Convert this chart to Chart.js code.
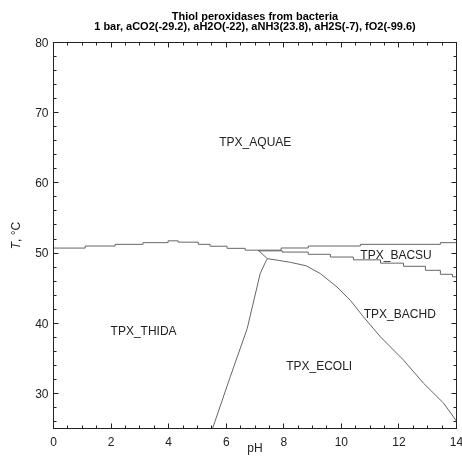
<!DOCTYPE html>
<html><head><meta charset="utf-8">
<script src="https://cdn.jsdelivr.net/npm/chart.js@4.4.1/dist/chart.umd.min.js"></script>
<style>html,body{margin:0;padding:0;background:#fff;}#wrap{width:462px;height:460px;}</style>
</head><body><div id="wrap"><canvas id="c" width="462" height="460"></canvas></div>
<script>
// ---- text ----
const titleLines = ["Thiol peroxidases from bacteria", "1 bar, aCO2(-29.2), aH2O(-22), aNH3(23.8), aH2S(-7), fO2(-99.6)"];
const xAxisTitle = "pH";
const yAxisTitleItalic = "T";
const yAxisTitleRest = ", \u00B0C";
const xTickLabels = [0, 2, 4, 6, 8, 10, 12, 14];
const yTickLabels = [30, 40, 50, 60, 70, 80];

// ---- region labels (pH, T) ----
const regionNames = ["TPX_AQUAE", "TPX_THIDA", "TPX_BACSU", "TPX_BACHD", "TPX_ECOLI"];
const regionPH    = [7.01, 3.13, 11.90, 12.03, 9.23];
const regionT     = [65.68, 38.79, 49.63, 41.28, 33.78];

// ---- boundaries ----
// AQUAE / THIDA (stepped)
const aquaeThidaPH = [0, 1.10, 2.14, 3.11, 3.98, 4.33, 5.03, 5.44, 6.03, 6.66, 7.11];
const aquaeThidaT  = [50.71, 51.00, 51.24, 51.48, 51.74, 51.55, 51.24, 50.97, 50.67, 50.41, 50.41];
// AQUAE / BACSU (stepped)
const aquaeBacsuPH = [7.11, 7.91, 8.85, 10.66, 13.44, 14.0];
const aquaeBacsuT  = [50.41, 50.72, 51.00, 51.24, 51.48, 51.48];
// BACSU / BACHD (stepped)
const bacsuBachdPH = [7.11, 7.95, 8.85, 9.62, 10.42, 11.36, 12.16, 12.92, 13.44, 13.86, 14.0];
const bacsuBachdT  = [50.31, 50.14, 49.82, 49.43, 49.03, 48.56, 48.11, 47.54, 46.97, 46.61, 46.61];
// THIDA / BACHD
const thidaBachdPH = [7.11, 7.43];
const thidaBachdT  = [50.41, 49.20];
// ECOLI / BACHD
const ecoliBachdPH = [7.43, 7.81, 8.23, 8.78, 9.27, 9.85, 10.31, 10.77, 11.36, 12.16, 12.85, 13.55, 14.0];
const ecoliBachdT  = [49.20, 48.96, 48.68, 48.18, 47.07, 45.16, 43.27, 40.90, 38.05, 34.74, 31.47, 28.62, 26.06];
// THIDA / ECOLI
const thidaEcoliPH = [5.525, 6.14, 6.73, 7.18, 7.36, 7.43];
const thidaEcoliT  = [25.0, 32.36, 39.25, 47.07, 48.68, 49.20];

function pts(xs, ys) { return xs.map((x, i) => ({x: x, y: ys[i]})); }
const LINE = '#666';
function ds(xs, ys, stepped) {
  return {data: pts(xs, ys), showLine: true, stepped: stepped, borderColor: LINE, borderWidth: 1,
          pointRadius: 0, fill: false, tension: 0};
}

const FONT = '"Liberation Sans", Arial, Helvetica, sans-serif';

const decor = {
  id: 'decor',
  afterDatasetsDraw(chart) {
    const ctx = chart.ctx, a = chart.chartArea;
    const xs = chart.scales.x, ys = chart.scales.y;
    const crisp = v => Math.round(v - 0.5) + 0.5;
    ctx.save();
    // box
    ctx.strokeStyle = '#222';
    ctx.lineWidth = 1;
    ctx.strokeRect(a.left, a.top, a.right - a.left, a.bottom - a.top);
    // ticks
    ctx.beginPath();
    for (let v = 0; v <= 14.0001; v += 0.5) {
      const major = xTickLabels.indexOf(Math.round(v * 10) / 10) >= 0;
      const L = major ? 5 : 3;
      const px = crisp(xs.getPixelForValue(v));
      ctx.moveTo(px, a.bottom); ctx.lineTo(px, a.bottom - L);
      ctx.moveTo(px, a.top); ctx.lineTo(px, a.top + L);
    }
    for (let v = 26; v <= 80; v += 2) {
      const major = yTickLabels.indexOf(v) >= 0;
      const L = major ? 5 : 3;
      const py = crisp(ys.getPixelForValue(v));
      ctx.moveTo(a.left, py); ctx.lineTo(a.left + L, py);
      ctx.moveTo(a.right, py); ctx.lineTo(a.right - L, py);
    }
    ctx.stroke();
    // tick labels
    ctx.fillStyle = '#222';
    ctx.font = '12px ' + FONT;
    ctx.textBaseline = 'alphabetic';
    ctx.textAlign = 'center';
    xTickLabels.forEach(v => ctx.fillText(String(v), xs.getPixelForValue(v), 445.5));
    ctx.textAlign = 'right';
    yTickLabels.forEach(v => ctx.fillText(String(v), 48.5, ys.getPixelForValue(v) + 4.3));
    // axis titles
    ctx.textAlign = 'center';
    ctx.fillText(xAxisTitle, (a.left + a.right) / 2, 451.5);
    ctx.save();
    ctx.translate(19.5, (a.top + a.bottom) / 2);
    ctx.rotate(-Math.PI / 2);
    ctx.font = 'italic 12px ' + FONT;
    const w1 = ctx.measureText(yAxisTitleItalic).width;
    ctx.font = '12px ' + FONT;
    const w2 = ctx.measureText(yAxisTitleRest).width;
    ctx.textAlign = 'left';
    ctx.font = 'italic 12px ' + FONT;
    ctx.fillText(yAxisTitleItalic, -(w1 + w2) / 2, 0);
    ctx.font = '12px ' + FONT;
    ctx.fillText(yAxisTitleRest, -(w1 + w2) / 2 + w1, 0);
    ctx.restore();
    // title
    ctx.fillStyle = '#000';
    ctx.font = 'bold 11px ' + FONT;
    ctx.textAlign = 'center';
    const cx = (a.left + a.right) / 2;
    ctx.fillText(titleLines[0], cx, 19.5);
    ctx.fillText(titleLines[1], cx, 30);
    // region labels
    ctx.fillStyle = '#222';
    ctx.font = '12px ' + FONT;
    ctx.textBaseline = 'middle';
    regionNames.forEach((n, i) => ctx.fillText(n, xs.getPixelForValue(regionPH[i]), ys.getPixelForValue(regionT[i])));
    ctx.restore();
  }
};

new Chart(document.getElementById('c'), {
  type: 'scatter',
  data: {
    datasets: [
      ds(aquaeThidaPH, aquaeThidaT, true),
      ds(aquaeBacsuPH, aquaeBacsuT, true),
      ds(bacsuBachdPH, bacsuBachdT, true),
      ds(thidaBachdPH, thidaBachdT, false),
      ds(ecoliBachdPH, ecoliBachdT, false),
      ds(thidaEcoliPH, thidaEcoliT, false)
    ]
  },
  options: {
    responsive: false,
    animation: false,
    devicePixelRatio: 1,
    layout: {padding: {left: 53.5, top: 42.5, right: 5.5, bottom: 31.5}},
    scales: {
      x: {type: 'linear', min: 0, max: 14, display: false},
      y: {type: 'linear', min: 25, max: 80, display: false}
    },
    plugins: {legend: {display: false}, tooltip: {enabled: false}, title: {display: false}}
  },
  plugins: [decor]
});
</script></body></html>
